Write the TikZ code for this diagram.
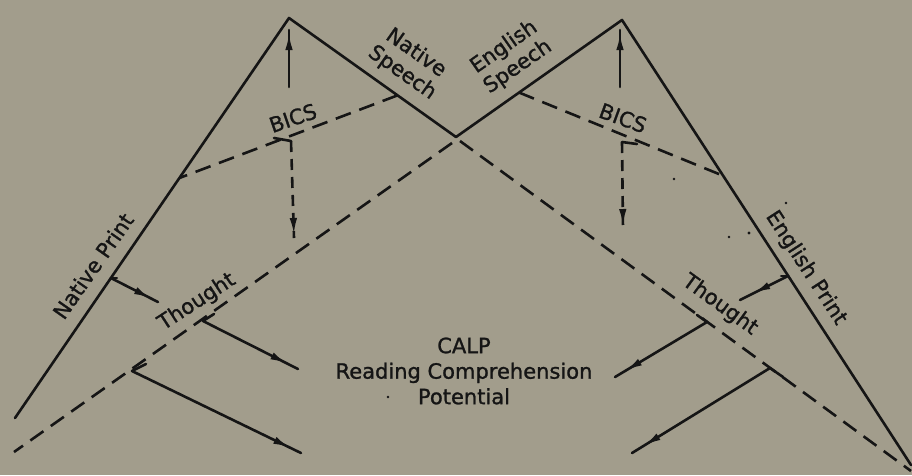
\documentclass[tikz,border=0pt]{standalone}
\usepackage{fontspec}
\setmainfont{DejaVu Sans}
\newfontfamily\lblfont[BoldFont={DejaVu Sans}, BoldFeatures={FakeBold=1.2}]{DejaVu Sans}
\usetikzlibrary{arrows.meta,calc,decorations.markings}
\definecolor{bg}{HTML}{A29D8C}
\definecolor{ink}{HTML}{151515}
\tikzset{
 solidline/.style={draw=ink, line width=2.6pt, line join=round, line cap=round},
 dashline/.style={draw=ink, line width=2.6pt, dash pattern=on 16pt off 9pt},
 vdash/.style={draw=ink, line width=2.6pt, dash pattern=on 11pt off 7pt},
 arrowat/.style={postaction={decorate}, decoration={markings, mark=at position #1 with {\arrow{Latex[length=17pt,width=7.5pt]}}}},
 lbl/.style={text=ink, font=\lblfont\bfseries\fontsize{21}{24}\selectfont, inner sep=0pt, align=center},
 speck/.style={fill=ink, draw=none},
}
\begin{document}
\begin{tikzpicture}[x=1pt,y=-1pt]
\fill[bg] (0,0) rectangle (912,475);
\useasboundingbox (0,0) rectangle (912,475);
% main points
\coordinate (LP) at (289,18);
\coordinate (V) at (456,137);
\coordinate (RP) at (622,20);
\coordinate (LB) at (15,418);
\coordinate (RB) at (911,465);
\coordinate (LDs) at (452,143);
\coordinate (LD) at (14,452);
\coordinate (RDs) at (460,141);
\coordinate (RD) at (911,471);
% solid triangle sides
\draw[solidline] (LB) -- (LP) -- (V);
\draw[solidline] (V) -- (RP) -- (RB);
% long dashed continuations
\draw[dashline] (LDs) -- (LD);
\draw[dashline] (RDs) -- (RD);
% BICS dashed lines
\coordinate (A1) at ($(LP)!0.65!(V)$);
\coordinate (A2) at ($(LP)!0.4!(LB)$);
\coordinate (B1) at ($(RP)!0.62!(V)$);
\coordinate (B2) at ($(RP)!0.35!(RB)$);
\draw[dashline] (A1) -- (A2);
\draw[dashline] (B1) -- (B2);
% vertical arrows
\coordinate (LU1) at (289,87); \coordinate (LU2) at (289,30);
\draw[solidline, arrowat=-3pt] (LU1) -- (LU2);
\coordinate (RU1) at (620,87); \coordinate (RU2) at (620,30);
\draw[solidline, arrowat=-3pt] (RU1) -- (RU2);
\coordinate (LH0) at (274,138); \coordinate (LH1) at (291,141); \coordinate (LH2) at (294,238);
\draw[solidline] (LH0) -- (LH1);
\draw[vdash, arrowat=-3pt] (LH1) -- (LH2);
\coordinate (RH0) at (637,144); \coordinate (RH1) at (622,142); \coordinate (RH2) at (623,229);
\draw[solidline] (RH0) -- (RH1);
\draw[vdash, arrowat=-3pt] (RH1) -- (RH2);
% Thought arrows, left
\coordinate (T1v) at ($(LP)!0.65!(LB)$); \coordinate (T1s) at ($(T1v)+(6,0)$); \coordinate (T1e) at (158,302);
\draw[solidline] (T1v) -- (T1s);
\draw[solidline, arrowat=-8pt] (T1v) -- (T1e);
\coordinate (T2v) at (203,321); \coordinate (T2s) at (214,314); \coordinate (T2e) at (298,369);
\draw[solidline] (T2s) -- (T2v);
\draw[solidline, arrowat=-12pt] (T2v) -- (T2e);
\coordinate (T3v) at (132,371); \coordinate (T3s) at (146,364); \coordinate (T3e) at (301,453);
\draw[solidline] (T3s) -- (T3v);
\draw[solidline, arrowat=-12pt] (T3v) -- (T3e);
% Thought arrows, right
\coordinate (R1v) at ($(RP)!0.575!(RB)$); \coordinate (R1s) at ($(R1v)+(-7,0)$); \coordinate (R1e) at (740,300);
\draw[solidline] (R1v) -- (R1s);
\draw[solidline, arrowat=-15pt] (R1v) -- (R1e);
\coordinate (R2v) at (707,322); \coordinate (R2s) at (697,315); \coordinate (R2e) at (615,377);
\draw[solidline] (R2s) -- (R2v);
\draw[solidline, arrowat=-12pt] (R2v) -- (R2e);
\coordinate (R3v) at (770,368); \coordinate (R3s) at (783,377); \coordinate (R3e) at (632,453);
\draw[solidline] (R3s) -- (R3v);
\draw[solidline, arrowat=-14pt] (R3v) -- (R3e);
% labels
\node[lbl, rotate=-35] (ns) at (409,63) {Native\\Speech};
\node[lbl, rotate=35] (es) at (511,57) {English\\Speech};
\node[lbl, rotate=19] (bl) at (293,118) {BICS};
\node[lbl, rotate=-20] (br) at (623,118) {BICS};
\node[lbl, rotate=55] (np) at (93,266) {Native Print};
\node[lbl, rotate=-57] (ep) at (806,268) {English Print};
\node[lbl, rotate=33] (tl) at (197,302) {Thought};
\node[lbl, rotate=-36] (tr) at (720,305) {Thought};
\node[lbl, font=\lblfont\bfseries\fontsize{21}{25.5}\selectfont] (calp) at (464,371) {CALP\\Reading Comprehension\\Potential};
% specks
\fill[speck] (388,397) circle (1.4);
\fill[speck] (674,179) circle (1.4);
\fill[speck] (786,203) circle (1.4);
\fill[speck] (729,237) circle (1.4);
\fill[speck] (749,233) circle (1.6);
\end{tikzpicture}
\end{document}
